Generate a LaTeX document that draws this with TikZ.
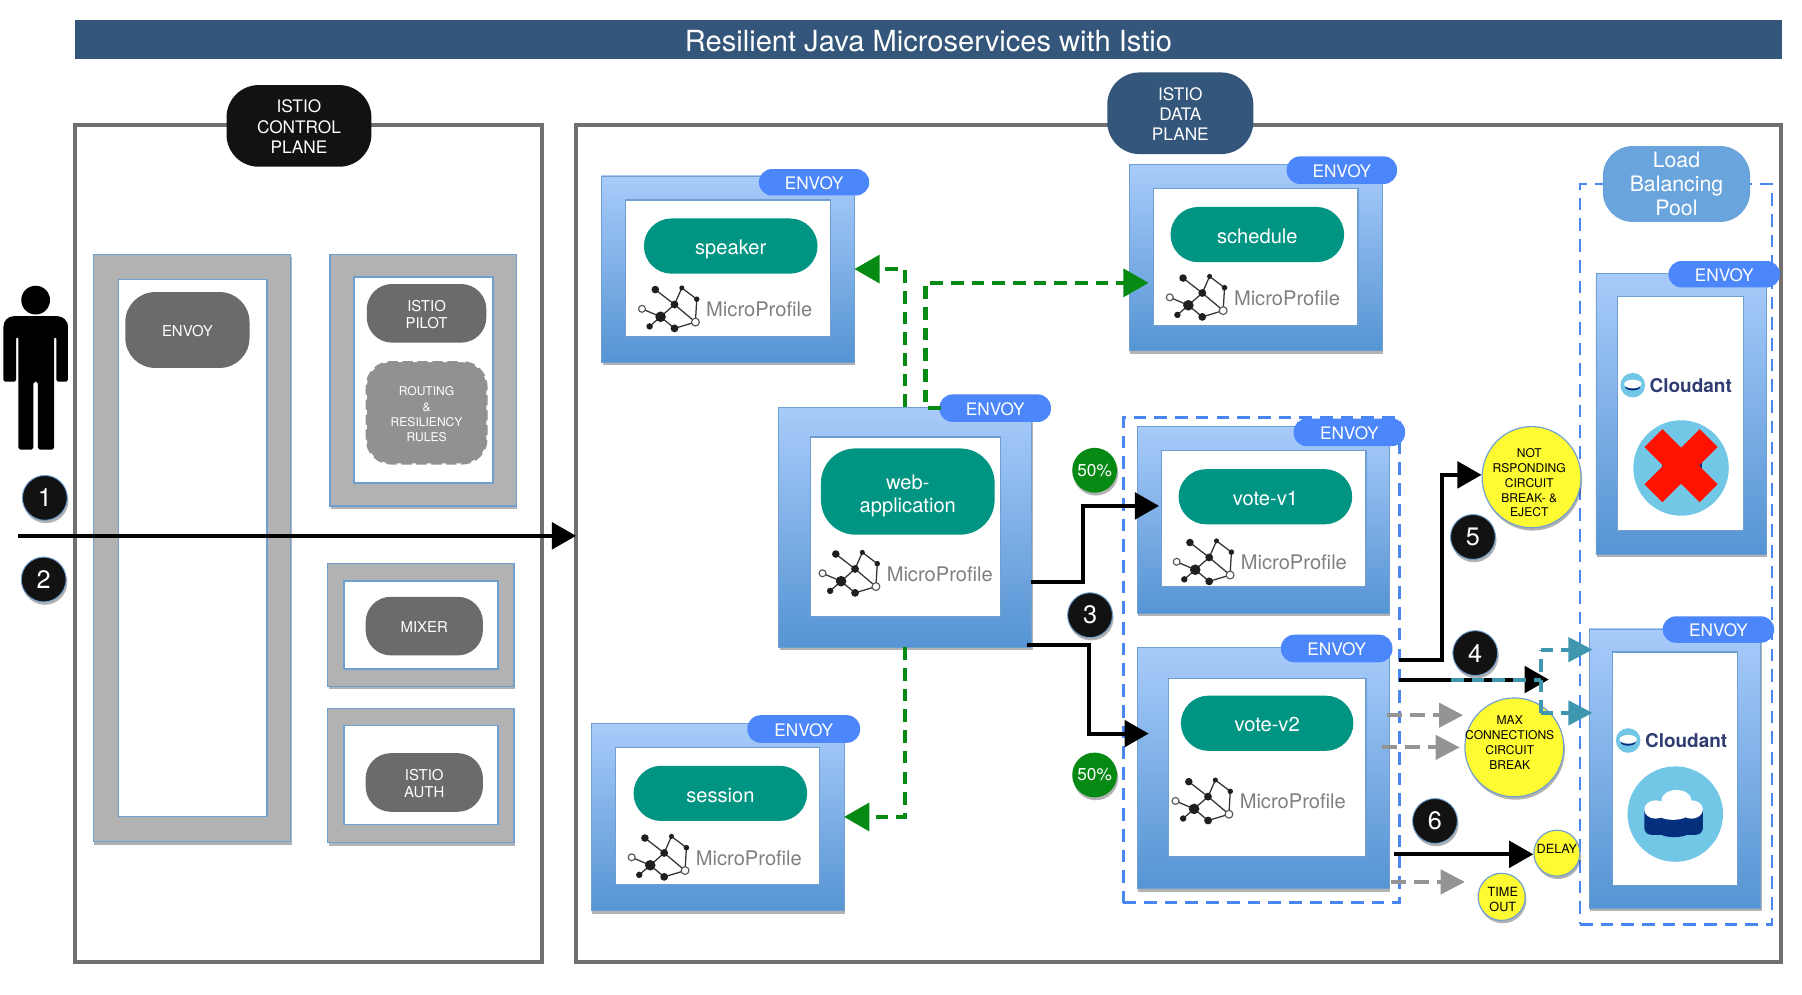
\documentclass[tikz,border=0pt]{standalone}
\usepackage{fontspec}
\setmainfont{TeX Gyre Heros}
\usetikzlibrary{arrows.meta,shadows,shapes.geometric}
\definecolor{navy}{HTML}{34567A}
\definecolor{planegray}{HTML}{707070}
\definecolor{framegray}{HTML}{B2B2B2}
\definecolor{edgeblue}{HTML}{6F9FD0}
\definecolor{gradtop}{HTML}{A8CBFA}
\definecolor{gradbot}{HTML}{5594D3}
\definecolor{envoyblue}{HTML}{4C86FB}
\definecolor{teal1}{HTML}{009482}
\definecolor{dashblue}{HTML}{4A86F0}
\definecolor{lbblue}{HTML}{6AA4DC}
\definecolor{greenok}{HTML}{078A14}
\definecolor{yellowc}{HTML}{FFFB33}
\definecolor{tealarrow}{HTML}{3E97AE}
\definecolor{cloudblue}{HTML}{72C7E7}
\definecolor{clouddark}{HTML}{042F7C}
\definecolor{cloudtext}{HTML}{2F3D73}
\newcommand{\fs}[2]{\fontsize{#1}{#2}\selectfont}
\newcommand{\txtdrop}{0pt}
\newcommand{\rnode}[7]{%
  \pgfmathsetmacro\rw{#5-#3}\pgfmathsetmacro\rh{#6-#4}%
  \pgfmathsetmacro\rx{(#3+#5)/2}\pgfmathsetmacro\ry{(#4+#6)/2}%
  \node[#1,minimum width=\rw pt,minimum height=\rh pt] (#2) at (\rx,\ry) {\raisebox{-\txtdrop}[\height][\depth]{\begin{tabular}{@{}c@{}}#7\end{tabular}}};}
\tikzset{
  ts/.code={\def\txtdrop{#1}},
  base/.style={rectangle,inner sep=0pt,outer sep=0pt,align=center},
  softshadow/.style={drop shadow={shadow xshift=1pt,shadow yshift=-2.5pt,opacity=.3,fill=black}},
  plane/.style={base,draw=planegray,line width=3.5pt},
  planetag/.style={base,text=white,font=\fs{15}{17.5},rounded corners=28pt,ts=2.7pt},
  frameout/.style={base,fill=framegray,draw=edgeblue,line width=1pt,softshadow},
  framein/.style={base,fill=white,draw=edgeblue,line width=1.5pt},
  ctrlpill/.style={base,fill=black!58,text=white,font=\fs{13}{15},rounded corners=22pt,ts=3pt},
  rules/.style={base,fill=black!43,draw=white,dash pattern=on 4pt off 9pt,line width=2pt,text=white,font=\fs{10.5}{13.3},rounded corners=22pt,ts=2.5pt},
  svcout/.style={base,top color=gradtop,bottom color=gradbot,draw=edgeblue,line width=.6pt,softshadow},
  svcin/.style={base,fill=white,draw=edgeblue,line width=1pt},
  svcpill/.style={base,fill=teal1,text=white,font=\fs{17.5}{19.5},rounded corners=24pt,ts=3.7pt},
  envoytag/.style={base,fill=envoyblue,text=white,font=\fs{15}{17},rounded corners=11.5pt,ts=3pt},
  numc/.style={circle,inner sep=0pt,minimum size=39pt,fill=black!93,draw=edgeblue,line width=.8pt,text=white,font=\fs{22}{24},softshadow},
  pct/.style={circle,inner sep=0pt,minimum size=39pt,fill=greenok,text=white,font=\fs{15}{17},softshadow},
  yell/.style={ellipse,inner sep=0pt,fill=yellowc,draw=edgeblue,line width=1pt,softshadow},
  ytext/.style={font=\fs{10.5}{12.9},align=center,inner sep=0pt,text=black},
  lbdash/.style={draw=dashblue,line width=2pt,dash pattern=on 11pt off 7pt},
  garrow/.style={line width=4pt,draw=greenok,dash pattern=on 11pt off 7pt,-{Triangle[length=22pt,width=24pt,fill=greenok]}},
  barrow/.style={line width=3.5pt,draw=black,-{Triangle[length=21pt,width=23pt]}},
  grayarrow/.style={line width=3.5pt,draw=black!42,dash pattern=on 13pt off 7pt,-{Triangle[length=21pt,width=21pt,fill=black!42]}},
  tarrow/.style={line width=3.5pt,draw=tealarrow,dash pattern=on 11pt off 7pt,-{Triangle[length=21pt,width=21pt,fill=tealarrow]}},
  tplain/.style={line width=3.5pt,draw=tealarrow,dash pattern=on 11pt off 7pt},
  mplogo/.pic={
    \begin{scope}[xshift=2.5pt,yshift=-2.5pt,x=.2886pt,y=-.2886pt]
      \coordinate (A) at (-16,-82);\coordinate (B) at (64,-87);\coordinate (C) at (109,-53);
      \coordinate (D) at (42,-37);\coordinate (E) at (0,0);\coordinate (F) at (-56,-24);
      \coordinate (G) at (-33,29);\coordinate (H) at (42,35);\coordinate (I) at (105,16);
      \draw[black!80,line width=1.1pt] (A)--(D)--(B)--(C)--(I)--(D)--(E)--(F) (E)--(G) (E)--(H)--(I);
      \fill[black!88] (A) circle[radius=3.3pt] (B) circle[radius=2.2pt] (C) circle[radius=2.4pt]
        (D) circle[radius=3.4pt] (E) circle[radius=4.6pt] (G) circle[radius=2.8pt] (H) circle[radius=3.4pt];
      \draw[black!65,fill=white,line width=1pt] (F) circle[radius=3pt] (I) circle[radius=3.4pt];
    \end{scope}
    \node[anchor=west,inner sep=0pt,text=black!50,font=\fs{17.5}{19}] at (42,-3.8) {MicroProfile};
  },
  cloudlogo/.pic={
    \fill[cloudblue] (0,0) circle[radius=10.7pt];
    \fill[clouddark] (0,1.5) ellipse[x radius=6.5pt,y radius=3pt];
    \fill[white] (0,-1) ellipse[x radius=7.5pt,y radius=3.8pt];
    \node[anchor=west,inner sep=0pt,text=cloudtext,font=\bfseries\fs{16.5}{17}] at (14.5,0) {Cloudant};
  }
}
\begin{document}
\begin{tikzpicture}[x=1pt,y=-1pt]
\useasboundingbox (0,0) rectangle (1567.2,864.6);
\fill[white] (0,0) rectangle (1567.2,864.6);
% title
\rnode{base,fill=navy,text=white,font=\fs{25.3}{28},ts=5pt}{title}{65}{17}{1550}{51}{Resilient Java Microservices with Istio}
% planes
\rnode{plane}{control}{65}{109}{471}{837}{}
\rnode{plane}{data}{501}{109}{1549}{837}{}
\rnode{planetag,fill=black!93}{ctag}{197}{74}{323}{145}{ISTIO\\CONTROL\\PLANE}
\rnode{planetag,fill=navy}{dtag}{963}{63}{1090}{134}{ISTIO\\DATA\\PLANE}
% control frames
\rnode{frameout}{fa}{81}{221}{253}{732}{}
\rnode{framein}{fai}{103}{243}{232}{710}{}
\rnode{ctrlpill,rounded corners=26pt}{cenvoy}{109}{254}{217}{320}{ENVOY}
\rnode{frameout}{fb}{287}{221}{449}{440}{}
\rnode{framein}{fbi}{308}{241}{429}{420}{}
\rnode{ctrlpill}{pilot}{319}{247}{423}{298}{ISTIO\\PILOT}
\rnode{rules}{routing}{318}{314}{424}{404}{ROUTING\\\&\\RESILIENCY\\RULES}
\rnode{frameout}{fc}{285}{490}{447}{597}{}
\rnode{framein}{fci}{299}{505}{433}{582}{}
\rnode{ctrlpill}{mixer}{318}{519}{420}{570}{MIXER}
\rnode{frameout}{fd}{285}{616}{447}{733}{}
\rnode{framein}{fdi}{299}{631}{433}{717}{}
\rnode{ctrlpill}{auth}{318}{655}{420}{706}{ISTIO\\AUTH}
% person
\fill[black] (31,261) circle[radius=12.5pt];
\fill[black,rounded corners=1.5pt] (3,332) -- (3,290) [rounded corners=9pt] -- (3,275) -- (59,275) -- (59,290) [rounded corners=1.5pt] -- (59,332) -- (49,332) -- (49,293) -- (47,293) -- (47,391) -- (33,391) -- (33,332) -- (29,332) -- (29,391) -- (16,391) -- (16,293) -- (14,293) -- (14,332) -- cycle;
% dashed groups
\rnode{base,lbdash}{votegroup}{977}{363}{1217}{785}{}
\rnode{base,lbdash}{lbgroup}{1374}{160}{1541}{804}{}
% services
\rnode{svcout}{speakerbox}{523}{153}{743}{315}{}
\rnode{svcin}{speakerin}{544}{174}{722}{293}{}
\rnode{svcpill}{speaker}{560}{190}{711}{238}{speaker}
\pic at (572,273) {mplogo};
\rnode{envoytag}{e1}{660}{147}{756}{170}{ENVOY}
\rnode{svcout}{schedulebox}{982}{143}{1202}{305}{}
\rnode{svcin}{schedulein}{1003}{164}{1181}{283}{}
\rnode{svcpill}{schedule}{1018}{180}{1169}{228}{schedule}
\pic at (1031,263) {mplogo};
\rnode{envoytag}{e2}{1119}{136}{1215}{160}{ENVOY}
\rnode{svcout}{webbox}{677}{354}{897}{563}{}
\rnode{svcin}{webin}{705}{380}{870}{536}{}
\rnode{svcpill,rounded corners=30pt,ts=4.2pt}{web}{714}{390}{865}{465}{web-\\application}
\pic at (729,503) {mplogo};
\rnode{envoytag}{e3}{817}{343}{914}{367}{ENVOY}
\rnode{svcout}{sessionbox}{514}{629}{734}{792}{}
\rnode{svcin}{sessionin}{535}{650}{713}{769}{}
\rnode{svcpill}{session}{551}{666}{702}{714}{session}
\pic at (563,750) {mplogo};
\rnode{envoytag}{e4}{650}{622}{748}{646}{ENVOY}
\rnode{svcout}{voteonebox}{989}{371}{1208}{533}{}
\rnode{svcin}{voteonein}{1010}{392}{1188}{510}{}
\rnode{svcpill}{voteone}{1025}{408}{1176}{456}{vote-v1}
\pic at (1037,493) {mplogo};
\rnode{envoytag}{e5}{1125}{364}{1222}{388}{ENVOY}
\rnode{svcout}{votetwobox}{989}{563}{1208}{773}{}
\rnode{svcin}{votetwoin}{1016}{590}{1188}{745}{}
\rnode{svcpill}{votetwo}{1027}{605}{1177}{653}{vote-v2}
\pic at (1036,701) {mplogo};
\rnode{envoytag}{e6}{1114}{552}{1211}{576}{ENVOY}
% load balancing
\rnode{base,fill=lbblue,text=white,font=\fs{18.5}{21},rounded corners=26pt,ts=2.6pt}{lbtag}{1394}{127}{1522}{193}{Load\\Balancing\\Pool}
\rnode{svcout}{cloudabox}{1388}{238}{1536}{482}{}
\rnode{svcin}{cloudain}{1407}{258}{1516}{461}{}
\rnode{envoytag}{e7}{1451}{227}{1548}{250}{ENVOY}
\pic at (1420,335) {cloudlogo};
\rnode{svcout}{cloudbbox}{1382}{547}{1531}{790}{}
\rnode{svcin}{cloudbin}{1402}{567}{1511}{770}{}
\rnode{envoytag}{e8}{1446}{536}{1543}{559}{ENVOY}
\pic at (1416,644) {cloudlogo};
% top icon, crossed
\fill[cloudblue] (1462,407) circle[radius=41.5pt];
\fill[clouddark] (1445,401) rectangle (1480,416);
\fill[white] (1450,394) rectangle (1476,402);
\draw[line width=22pt,draw=red!85!orange] (1438,381) -- (1486,429) (1486,381) -- (1438,429);
% bottom icon
\fill[cloudblue] (1457,708) circle[radius=41.5pt];
\fill[clouddark,rounded corners=6pt] (1430,700) rectangle (1481,726);
\fill[clouddark] (1456,724) ellipse[x radius=13pt,y radius=4pt];
\fill[white] (1440,704) ellipse[x radius=10pt,y radius=8pt] (1458,696) ellipse[x radius=13pt,y radius=9pt] (1471,704) ellipse[x radius=10pt,y radius=8pt] (1455,706) ellipse[x radius=15pt,y radius=7pt];
% badges
\node[numc] (n1) at (39,433) {1};
\node[numc] (n2) at (38,504) {2};
\node[numc] (n3) at (948,535) {3};
\node[numc] (n4) at (1283,568) {4};
\node[numc] (n5) at (1281,467) {5};
\node[numc] (n6) at (1248,714) {6};
\node[pct] (p1) at (952,409) {50\%};
\node[pct] (p2) at (952,674) {50\%};
% yellow
\node[yell,minimum width=86pt,minimum height=88pt,label={[ytext,xshift=-2pt,yshift=-5pt]center:NOT\\RSPONDING\\CIRCUIT\\BREAK- \&\\EJECT}] (notresp) at (1332,415) {};
\node[yell,minimum width=86pt,minimum height=86pt,label={[ytext,xshift=-4pt,yshift=4pt]center:MAX\\CONNECTIONS\\CIRCUIT\\BREAK}] (maxconn) at (1317,650) {};
\node[yell,minimum width=40pt,minimum height=40pt,label={[ytext,yshift=4pt,font=\fs{11}{13}]center:DELAY}] (delay) at (1354,742) {};
\node[yell,minimum width=41pt,minimum height=41pt,label={[ytext,xshift=1pt,yshift=-2.5pt,font=\fs{11}{13}]center:TIME\\OUT}] (timeout) at (1306,780) {};
% connectors
\coordinate (userstart) at (16,466);
\draw[barrow] (userstart) -- ([yshift=7pt]data.west);
\draw[garrow] (webbox.north) -- (webbox.north |- speakerbox.east) -- (speakerbox.east);
\draw[garrow] ([xshift=1pt]e3.west) -- (805,355) -- (805,246) -- ([yshift=-22pt,xshift=17pt]schedulebox.west);
\draw[garrow] (webbox.south) -- (webbox.south |- sessionbox.east) -- (sessionbox.east);
\draw[barrow] ([yshift=-47.5pt]webbox.east) -- (942,506) -- (942,440) -- ([yshift=12pt,xshift=19pt]voteonebox.west);
\draw[barrow] ([yshift=-102.5pt,xshift=-4pt]webbox.east) -- (947,561) -- (947,638) -- ([yshift=30pt,xshift=10pt]votetwobox.west);
\draw[barrow] ([yshift=94pt,xshift=9pt]votetwobox.east) -- (1254,574) -- (1254,413) -- ([yshift=2pt]notresp.west);
\coordinate (fourend) at (1347,591);
\draw[barrow] ([yshift=77pt,xshift=9pt]votetwobox.east) -- (fourend);
\draw[tplain] (1262,591) -- (1340,591);
\draw[tplain] (1340,620) -- (1340,565);
\draw[tarrow] (1340,565) -- ([yshift=103.5pt,xshift=3pt]cloudbbox.west);
\draw[tarrow] (1340,620) -- ([yshift=48.5pt,xshift=3pt]cloudbbox.west);
\draw[grayarrow] ([yshift=46pt,xshift=-2pt]votetwobox.east) -- ([yshift=28pt,xshift=-1pt]maxconn.west);
\draw[grayarrow] ([xshift=-6pt,yshift=18pt]votetwobox.east) -- ([xshift=-4pt]maxconn.west);
\draw[barrow] ([yshift=-75pt,xshift=4pt]votetwobox.east) -- ([yshift=-1pt]delay.west);
\draw[grayarrow] ([yshift=-99pt,xshift=2pt]votetwobox.east) -- ([yshift=13pt,xshift=-11pt]timeout.west);
\end{tikzpicture}
\end{document}
